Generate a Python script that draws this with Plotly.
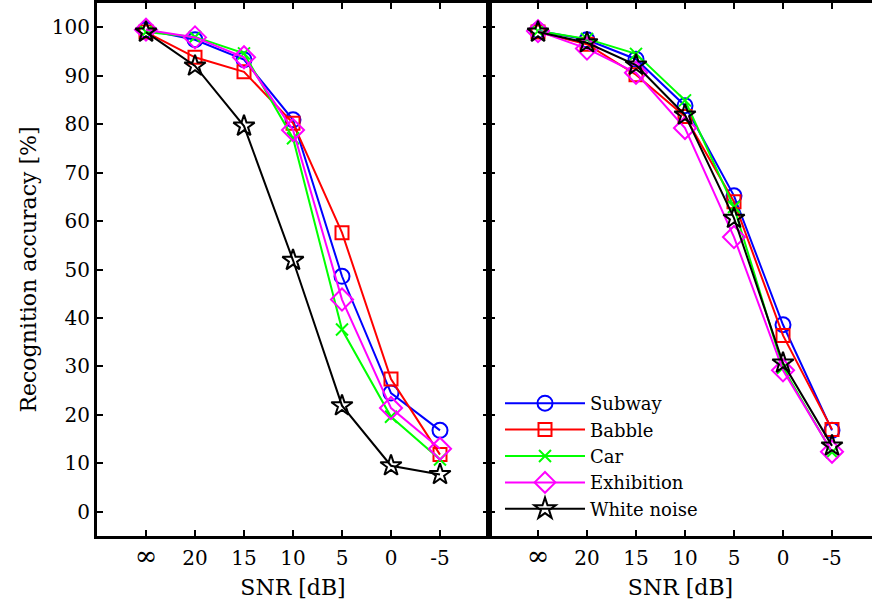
import plotly.graph_objects as go

# SNR conditions (clean speech first, then decreasing SNR)
snr_labels = ["∞", "20", "15", "10", "5", "0", "-5"]
snr_pos = list(range(len(snr_labels)))

# Recognition accuracy [%] -- baseline system (left panel)
base_subway = [99.5, 97.4, 93.3, 80.9, 48.6, 24.5, 16.8]
base_babble = [99.0, 93.8, 90.8, 80.2, 57.6, 27.4, 11.8]
base_car = [99.0, 98.0, 94.6, 77.1, 37.6, 19.6, 10.8]
base_exhibition = [99.5, 97.9, 93.8, 78.8, 43.8, 21.4, 13.0]
base_white = [99.0, 92.0, 79.6, 51.9, 21.9, 9.5, 7.7]

# Recognition accuracy [%] -- proposed system (right panel)
prop_subway = [99.3, 97.4, 93.4, 83.8, 65.2, 38.6, 16.8]
prop_babble = [99.0, 96.5, 90.2, 81.6, 64.0, 36.4, 17.0]
prop_car = [99.2, 97.6, 94.5, 84.9, 62.9, 29.7, 12.3]
prop_exhibition = [99.2, 95.6, 90.6, 79.2, 56.7, 29.2, 12.4]
prop_white = [99.0, 96.8, 92.2, 81.9, 60.6, 30.7, 13.6]

series_names = ["Subway", "Babble", "Car", "Exhibition", "White noise"]
colors = ["#0000ff", "#ff0000", "#00ff00", "#ff00ff", "#000000"]
symbols = ["circle-open", "square-open", "x-thin-open", "diamond-open", "star-open"]
sizes = [15, 13, 12, 17, 16]

left_data = [base_subway, base_babble, base_car, base_exhibition, base_white]
right_data = [prop_subway, prop_babble, prop_car, prop_exhibition, prop_white]

FONT = "DejaVu Serif"

# the infinity sign is set a little larger so it reads like the digits
tick_text = [f"<span style='font-size:27px'>{t}</span>" if t == "∞" else t for t in snr_labels]

fig = go.Figure()
for i, name in enumerate(series_names):
    for vals, xa, ya, show in ((left_data[i], "x", "y", False), (right_data[i], "x2", "y2", True)):
        fig.add_trace(go.Scatter(
            x=snr_pos, y=vals, xaxis=xa, yaxis=ya, name=name,
            mode="lines+markers", showlegend=show,
            line=dict(color=colors[i], width=2),
            marker=dict(symbol=symbols[i], size=sizes[i], color=colors[i],
                        line=dict(color=colors[i], width=2)),
        ))

W, H = 872, 604
ML, MR, MT, MB = 97, 0, 3, 68
plot_w = W - ML - MR
split = 392 / plot_w  # left panel width in paper fraction
unit = 392 / 8  # px per category step
right_max = -1 + (plot_w - 392) / unit

axis_common = dict(
    showline=True, linecolor="black", linewidth=3,
    ticks="inside", ticklen=6, tickwidth=2, tickcolor="black",
    showgrid=False, zeroline=False,
    tickfont=dict(family=FONT, size=20, color="black"),
)
x_common = dict(tickvals=snr_pos, ticktext=tick_text, mirror="ticks", ticklabelstandoff=2,
                title=dict(text="SNR [dB]", font=dict(family=FONT, size=22), standoff=10),
                **axis_common)

fig.update_layout(
    width=W, height=H,
    margin=dict(l=ML, r=MR, t=MT, b=MB),
    plot_bgcolor="white", paper_bgcolor="white",
    font=dict(family=FONT, color="black"),
    xaxis=dict(domain=[0, split], range=[-1, 7], anchor="y", **x_common),
    xaxis2=dict(domain=[split, 1], range=[-1, right_max], anchor="y2", **x_common),
    yaxis=dict(range=[-5, 105], tickvals=list(range(0, 101, 10)), mirror="ticks", anchor="x",
               title=dict(text="Recognition accuracy [%]", font=dict(family=FONT, size=22), standoff=10),
               **axis_common),
    yaxis2=dict(range=[-5, 105], tickvals=list(range(0, 101, 10)), anchor="x2",
                showticklabels=False, **axis_common),
    legend=dict(
        x=(500 - ML) / plot_w, y=(H - MB - 385) / (H - MT - MB),
        xanchor="left", yanchor="top",
        bgcolor="rgba(0,0,0,0)", borderwidth=0,
        font=dict(family=FONT, size=18, color="black"),
        itemwidth=80, tracegroupgap=0,
    ),
)

fig.write_html("out.html")
